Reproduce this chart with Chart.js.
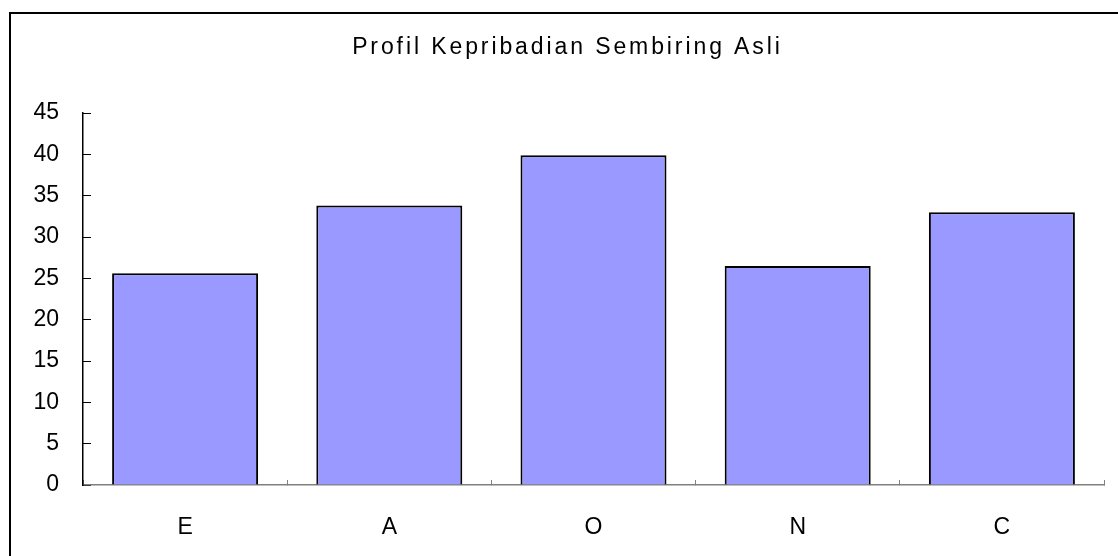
<!DOCTYPE html>
<html>
<head>
<meta charset="utf-8">
<script src="https://cdn.jsdelivr.net/npm/chart.js@4/dist/chart.umd.min.js"></script>
<style>
html,body{margin:0;padding:0;background:#fff;}
#wrap{width:1118px;height:556px;position:relative;}
</style>
</head>
<body>
<div id="wrap"><canvas id="c" width="1118" height="556"></canvas></div>
<script>
const chartTitle = 'Profil Kepribadian Sembiring Asli';
const categories = ['E', 'A', 'O', 'N', 'C'];
const scores = [25.6, 33.8, 39.9, 26.5, 33.0];
const yTicks = [0, 5, 10, 15, 20, 25, 30, 35, 40, 45];

const FONT = '"Liberation Sans", Arial, sans-serif';
const TITLE_SPACING = 2.9;

const framePlugin = {
  id: 'frame',
  beforeDraw(chart) {
    const ctx = chart.ctx;
    ctx.save();
    ctx.fillStyle = '#ffffff';
    ctx.fillRect(0, 0, chart.width, chart.height);
    ctx.strokeStyle = '#000000';
    ctx.lineWidth = 2;
    ctx.strokeRect(10, 13, 1300, 700);
    ctx.restore();
  },
  afterDraw(chart) {
    const ctx = chart.ctx;
    ctx.save();
    ctx.font = '23px ' + FONT;
    ctx.fillStyle = '#000000';
    ctx.textBaseline = 'middle';
    ctx.textAlign = 'left';
    if ('letterSpacing' in ctx) ctx.letterSpacing = TITLE_SPACING + 'px';
    const w = ctx.measureText(chartTitle).width - TITLE_SPACING;
    ctx.fillText(chartTitle, 566 - w / 2, 48);
    ctx.restore();
  }
};

new Chart(document.getElementById('c'), {
  type: 'bar',
  data: {
    labels: categories,
    datasets: [{
      data: scores,
      backgroundColor: '#9999ff',
      borderColor: '#000000',
      borderWidth: 2,
      categoryPercentage: 1,
      barPercentage: 0.715
    }]
  },
  options: {
    responsive: false,
    animation: false,
    devicePixelRatio: 1,
    layout: { padding: { top: 113, right: 14, left: 0, bottom: 0 } },
    plugins: { legend: { display: false }, title: { display: false }, tooltip: { enabled: false } },
    scales: {
      x: {
        afterFit(s) { s.height = 71; },
        grid: { display: true, drawOnChartArea: false, drawTicks: true, tickLength: -5, color: '#808080', lineWidth: 1, offset: true },
        border: { display: true, color: '#808080', width: 1.5 },
        ticks: { color: '#000000', font: { family: FONT, size: 23 }, padding: 34 }
      },
      y: {
        min: 0,
        max: 45,
        afterFit(s) { s.width = 83; },
        afterBuildTicks(s) { s.ticks = yTicks.map(v => ({ value: v })); },
        grid: { display: true, drawOnChartArea: false, drawTicks: true, tickLength: -8, color: '#000000', lineWidth: 1 },
        border: { display: true, color: '#000000', width: 1.5 },
        ticks: { color: '#000000', font: { family: FONT, size: 23 }, padding: 32 }
      }
    }
  },
  plugins: [framePlugin]
});
</script>
</body>
</html>
